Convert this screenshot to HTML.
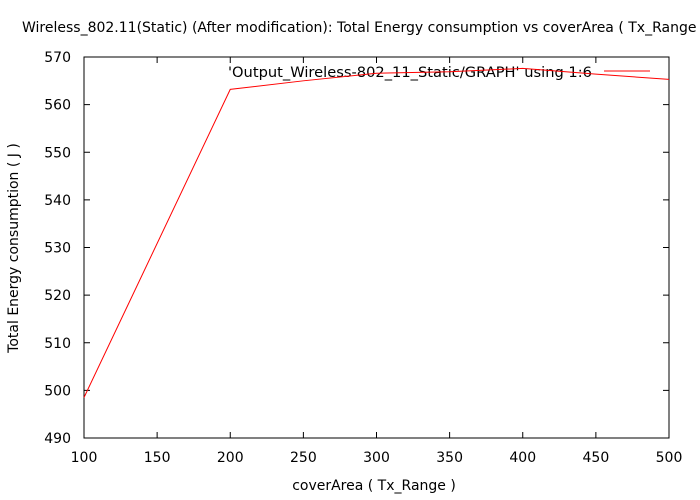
<!DOCTYPE html>
<html><head><meta charset="utf-8"><style>
body{margin:0;background:#fff}
svg{display:block;font-family:"DejaVu Sans","Liberation Sans",sans-serif;font-size:14px}
</style></head><body>
<svg width="700" height="500">
<g id="axes"></g>
<text x="22" y="32">Wireless_802.11(Static) (After modification): Total Energy consumption vs coverArea ( Tx_Range )</text>
<text x="374" y="490" text-anchor="middle">coverArea ( Tx_Range )</text>
<text transform="translate(18,248) rotate(-90)" text-anchor="middle">Total Energy consumption ( J )</text>
<text x="228" y="77" textLength="364" lengthAdjust="spacingAndGlyphs">'Output_Wireless-802_11_Static/GRAPH' using 1:6</text>
<line x1="604" y1="71" x2="650" y2="71" stroke="#f00"/>
<polyline id="series" fill="none" stroke="#f00" stroke-width="1"/>
</svg>
<script>
const xVals=[100,200,250,300,350,400,450,500];
const yVals=[498.5,563.2,565.0,566.6,566.9,567.6,566.4,565.3];
const xTicks=[100,150,200,250,300,350,400,450,500];
const yTicks=[490,500,510,520,530,540,550,560,570];
const L=84,R=669,T=57,B=438;
const sx=v=>L+(v-100)/400*(R-L);
const sy=v=>B-(v-490)/80*(B-T);
const g=document.getElementById('axes');
const NS='http://www.w3.org/2000/svg';
function mk(t,a){const e=document.createElementNS(NS,t);for(const k in a)e.setAttribute(k,a[k]);g.appendChild(e);return e;}
const fr=mk('rect',{x:L,y:T,width:R-L,height:B-T,fill:'none',stroke:'#000'});


xTicks.forEach(v=>{const x=sx(v);
mk('line',{x1:x,y1:B,x2:x,y2:B-6,stroke:'#000'});mk('line',{x1:x,y1:T,x2:x,y2:T+6,stroke:'#000'});
const t=mk('text',{x:x,y:B+24,'text-anchor':'middle'});t.textContent=v;

});
yTicks.forEach(v=>{const y=sy(v);
mk('line',{x1:L,y1:y,x2:L+6,y2:y,stroke:'#000'});mk('line',{x1:R,y1:y,x2:R-6,y2:y,stroke:'#000'});
const t=mk('text',{x:L-13,y:y+5,'text-anchor':'end'});t.textContent=v;

});
document.getElementById('series').setAttribute('points',xVals.map((v,i)=>sx(v)+','+sy(yVals[i])).join(' '));
</script>
</body></html>
